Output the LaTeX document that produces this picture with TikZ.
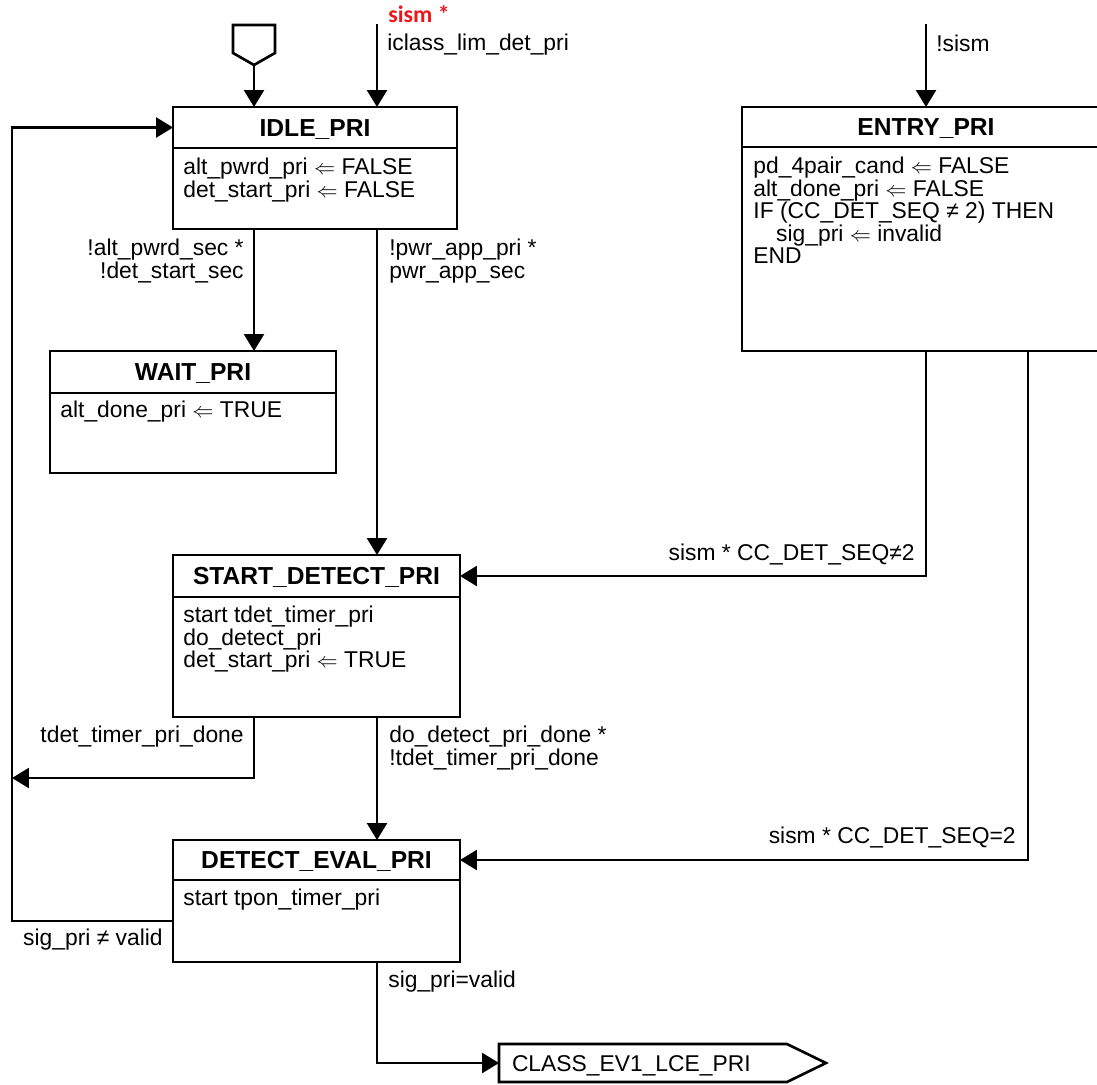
\documentclass[tikz,border=0pt]{standalone}
\usepackage{fontspec}
\setmainfont{Liberation Sans}
\newfontfamily\calibrifont{Carlito}
\usetikzlibrary{arrows.meta,positioning}
\definecolor{sismred}{RGB}{236,22,26}
\tikzset{
    head/.style={draw, line width=1.5pt, outer sep=0pt, inner sep=0pt, text height=10pt, text depth=0pt, font=\fontsize{14}{14}\selectfont\bfseries},
    body/.style={draw, line width=1.5pt, outer sep=0pt, inner sep=0pt},
    acts/.style={anchor=north west, inner sep=0pt, align=left, font=\fontsize{13}{12.8}\selectfont},
    cond/.style={inner sep=0pt, font=\fontsize{13}{12.8}\selectfont},
    condred/.style={inner sep=0pt, text=sismred, font=\calibrifont\bfseries\fontsize{13.5}{13.5}\selectfont},
    outbox/.style={anchor=west, inner xsep=0.26cm, inner ysep=0pt, outer sep=0pt, text width=5.24cm, minimum height=0.76cm, align=left, text height=9.3pt, text depth=0pt, font=\fontsize{13}{13}\selectfont},
    wire/.style={line width=1.5pt},
    trans/.style={line width=1.5pt, -{Triangle[length=0.34cm, width=0.4cm]}}
}

\begin{document}
\begin{tikzpicture}[x=0.02cm, y=-0.02cm]
    \useasboundingbox (0,0) rectangle (1097,1084);

    % states
    \node[head, minimum width=5.68cm, minimum height=0.82cm] (idle) at (315,127.5) {IDLE\_PRI};
    \node[body, minimum width=5.68cm, minimum height=1.62cm, below=0pt of idle] (idleBody) {};
    \node[acts] (idleActs) at ([shift={(10,10)}]idleBody.north west) {alt\_pwrd\_pri $\Leftarrow$ FALSE\\det\_start\_pri $\Leftarrow$ FALSE};

    \node[head, minimum width=7.36cm, minimum height=0.8cm] (entry) at (926,127) {ENTRY\_PRI};
    \node[body, minimum width=7.36cm, minimum height=4.08cm, below=0pt of entry] (entryBody) {};
    \node[acts] (entryActs) at ([shift={(11,10)}]entryBody.north west) {pd\_4pair\_cand $\Leftarrow$ FALSE\\alt\_done\_pri $\Leftarrow$ FALSE\\IF (CC\_DET\_SEQ ≠ 2) THEN\\\hspace*{13pt}sig\_pri $\Leftarrow$ invalid\\END};

    \node[head, minimum width=5.72cm, minimum height=0.84cm] (wait) at (193,372) {WAIT\_PRI};
    \node[body, minimum width=5.72cm, minimum height=1.6cm, below=0pt of wait] (waitBody) {};
    \node[acts] (waitActs) at ([shift={(10,8)}]waitBody.north west) {alt\_done\_pri $\Leftarrow$ TRUE};

    \node[head, minimum width=5.74cm, minimum height=0.84cm] (start) at (316.5,576) {START\_DETECT\_PRI};
    \node[body, minimum width=5.74cm, minimum height=2.4cm, below=0pt of start] (startBody) {};
    \node[acts] (startActs) at ([shift={(10,9)}]startBody.north west) {start tdet\_timer\_pri\\do\_detect\_pri\\det\_start\_pri $\Leftarrow$ TRUE};

    \node[head, minimum width=5.74cm, minimum height=0.8cm] (eval) at (316.5,860) {DETECT\_EVAL\_PRI};
    \node[body, minimum width=5.74cm, minimum height=1.64cm, below=0pt of eval] (evalBody) {};
    \node[acts] (evalActs) at ([shift={(10,9)}]evalBody.north west) {start tpon\_timer\_pri};

    \node[outbox] (cls) at (499,1063) {CLASS\_EV1\_LCE\_PRI};
    \draw[wire] (cls.north west) -- (cls.north east) -- ([xshift=0.78cm]cls.east) -- (cls.south east) -- (cls.south west) -- cycle;

    % entry marker and free ends
    \coordinate (init) at (254,65);
    \draw[wire] (233,25) -- (233,53) -- (init) -- (275,53) -- (275,25) -- cycle;
    \coordinate (sismIn) at (377,24);
    \coordinate (nsismIn) at (926,24);
    \coordinate (seqTwo) at (1028,0);
    \coordinate (rail) at (12,0);
    \coordinate (tdetEnd) at (12,778);

    % transitions
    \draw[trans] (init) -- (init |- idle.north);
    \draw[trans] (sismIn) -- (sismIn |- idle.north);
    \draw[trans] (nsismIn) -- (entry.north);
    \draw[trans] (idleBody.south -| init) -- (wait.north -| init);
    \draw[trans] (idleBody.south -| sismIn) -- (start.north -| sismIn);
    \draw[trans] (entryBody.south) |- (start.east);
    \draw[trans] (entryBody.south -| seqTwo) |- (eval.east);
    \draw[trans] (startBody.south -| init) |- (tdetEnd);
    \draw[trans] (startBody.south -| sismIn) -- (eval.north -| sismIn);
    \draw[trans] (evalBody.west) -- (evalBody.west -| rail) -- (idle.west -| rail) -- (idle.west);
    \draw[trans] (evalBody.south -| sismIn) |- (cls.west);

    % conditions
    \node[condred, anchor=base west] (cSism) at (388,23) {sism *};
    \node[cond, anchor=base west] (cIclass) at (387,51) {iclass\_lim\_det\_pri};
    \node[cond, anchor=base west] (cNsism) at (936,52) {!sism};
    \node[cond, anchor=north east, align=right] (cAlt) at (244,239) {!alt\_pwrd\_sec *\\!det\_start\_sec};
    \node[cond, anchor=north west, align=left] (cPwr) at (389,239) {!pwr\_app\_pri *\\pwr\_app\_sec};
    \node[cond, anchor=base east] (cSeqNe) at (915,560) {sism * CC\_DET\_SEQ≠2};
    \node[cond, anchor=base east] (cTdet) at (244,742) {tdet\_timer\_pri\_done};
    \node[cond, anchor=north west, align=left] (cDone) at (389,726) {do\_detect\_pri\_done *\\!tdet\_timer\_pri\_done};
    \node[cond, anchor=base east] (cSeqEq) at (1016,843) {sism * CC\_DET\_SEQ=2};
    \node[cond, anchor=base east] (cInv) at (163,945) {sig\_pri ≠ valid};
    \node[cond, anchor=base west] (cValid) at (388,987) {sig\_pri=valid};
\end{tikzpicture}
\end{document}
